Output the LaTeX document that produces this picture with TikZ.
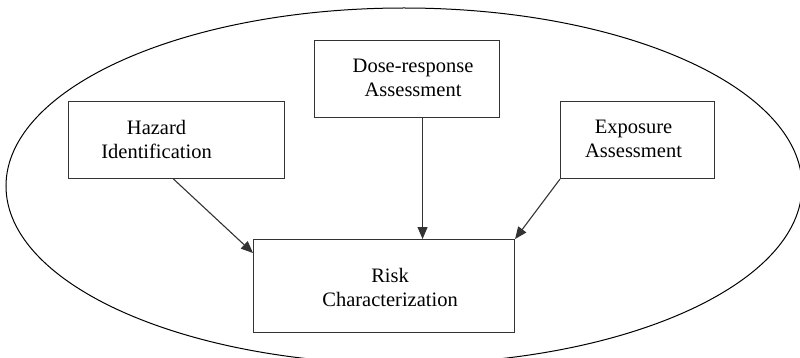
\documentclass[tikz,border=0pt]{standalone}
\usepackage{fontspec}
\setmainfont{Liberation Serif}
\usetikzlibrary{arrows.meta}
\begin{document}
\begin{tikzpicture}[x=1pt,y=1pt,
  box/.style={draw=black!80,line width=1.1pt,inner sep=0pt,anchor=north west},
  txt/.style={font=\fontsize{20.5}{24}\selectfont,align=center,inner sep=0pt},
  arr/.style={draw=black!80,line width=1.1pt,-{Triangle[length=12pt,width=10pt]}}]
\useasboundingbox (0,0) rectangle (800,-358);
\fill[white] (0,0) rectangle (800,-358);
\draw[line width=1pt] (404,-186) ellipse [x radius=398, y radius=178];
\node[box,minimum width=216pt,minimum height=77pt,
  label={[txt,xshift=-20pt,yshift=1pt]center:{Hazard\\Identification}}] (haz) at (68,-101) {};
\node[box,minimum width=185pt,minimum height=77pt,
  label={[txt,xshift=6pt,yshift=1pt]center:{Dose-response\\Assessment}}] (dose) at (314,-40) {};
\node[box,minimum width=154pt,minimum height=77pt,
  label={[txt,xshift=-4pt,yshift=1pt]center:{Exposure\\Assessment}}] (expo) at (560,-101) {};
\node[box,minimum width=261pt,minimum height=93pt,
  label={[txt,xshift=6pt,yshift=-1pt]center:{Risk\\Characterization}}] (risk) at (253,-239) {};
\draw[arr] ([xshift=-3pt]haz.south) -- ([yshift=-14pt]risk.north west);
\draw[arr] ([xshift=15.5pt]dose.south) -- ([xshift=15.5pt]dose.south |- risk.north);
\draw[arr] (expo.south west) -- (risk.north east);
\end{tikzpicture}
\end{document}
